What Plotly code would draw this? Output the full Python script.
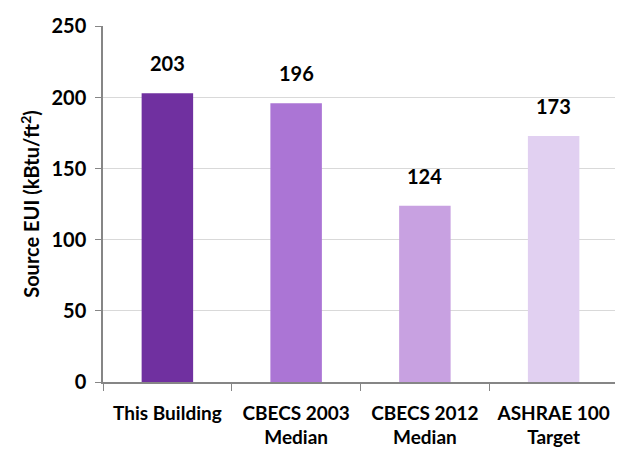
import plotly.graph_objects as go

categories = ["This Building", "CBECS 2003<br>Median", "CBECS 2012<br>Median", "ASHRAE 100<br>Target"]
values = [203, 196, 124, 173]
colors = ["#7030A0", "#AB75D5", "#C8A1E1", "#E1D0F1"]
y_ticks = [0, 50, 100, 150, 200, 250]

FONT = "Lato, 'Open Sans', sans-serif"

fig = go.Figure()
fig.add_trace(go.Bar(x=categories, y=values, marker=dict(color=colors, line=dict(width=0)),
                     width=0.4, hoverinfo="skip"))

for c, v in zip(categories, values):
    fig.add_annotation(x=c, y=v, text=str(v), showarrow=False, yanchor="bottom",
                       yshift=16, font=dict(family=FONT, size=20, color="black", weight="bold"))

# page body has an 8px default margin, so the figure is sized to fit the window
fig.update_layout(
    width=615, height=445,
    margin=dict(l=95, r=5, t=12, b=71),
    plot_bgcolor="white", paper_bgcolor="white",
    showlegend=False, bargap=0.6,
    font=dict(family=FONT, size=19, color="black", weight="bold"),
)
fig.update_xaxes(
    showline=True, linecolor="#868686", linewidth=1.5,
    ticks="outside", ticklen=7, tickcolor="#868686", tickson="boundaries",
    tickfont=dict(family=FONT, size=19, color="black", weight="bold"),
    ticklabelstandoff=13, ticklabeloverflow="allow",
)
fig.update_yaxes(
    range=[0, 250.3], tickvals=y_ticks,
    showline=True, linecolor="#868686", linewidth=1.5,
    ticks="outside", ticklen=6, tickcolor="#868686",
    showgrid=True, gridcolor="#D9D9D9", gridwidth=1,
    tickfont=dict(family=FONT, size=20, color="black", weight="bold"),
    ticklabelstandoff=5, ticklabeloverflow="allow",
    title=dict(text="Source EUI (kBtu/ft<sup>2</sup>)", font=dict(family=FONT, size=20, color="black", weight="bold"), standoff=6),
)

fig.write_html("out.html")
